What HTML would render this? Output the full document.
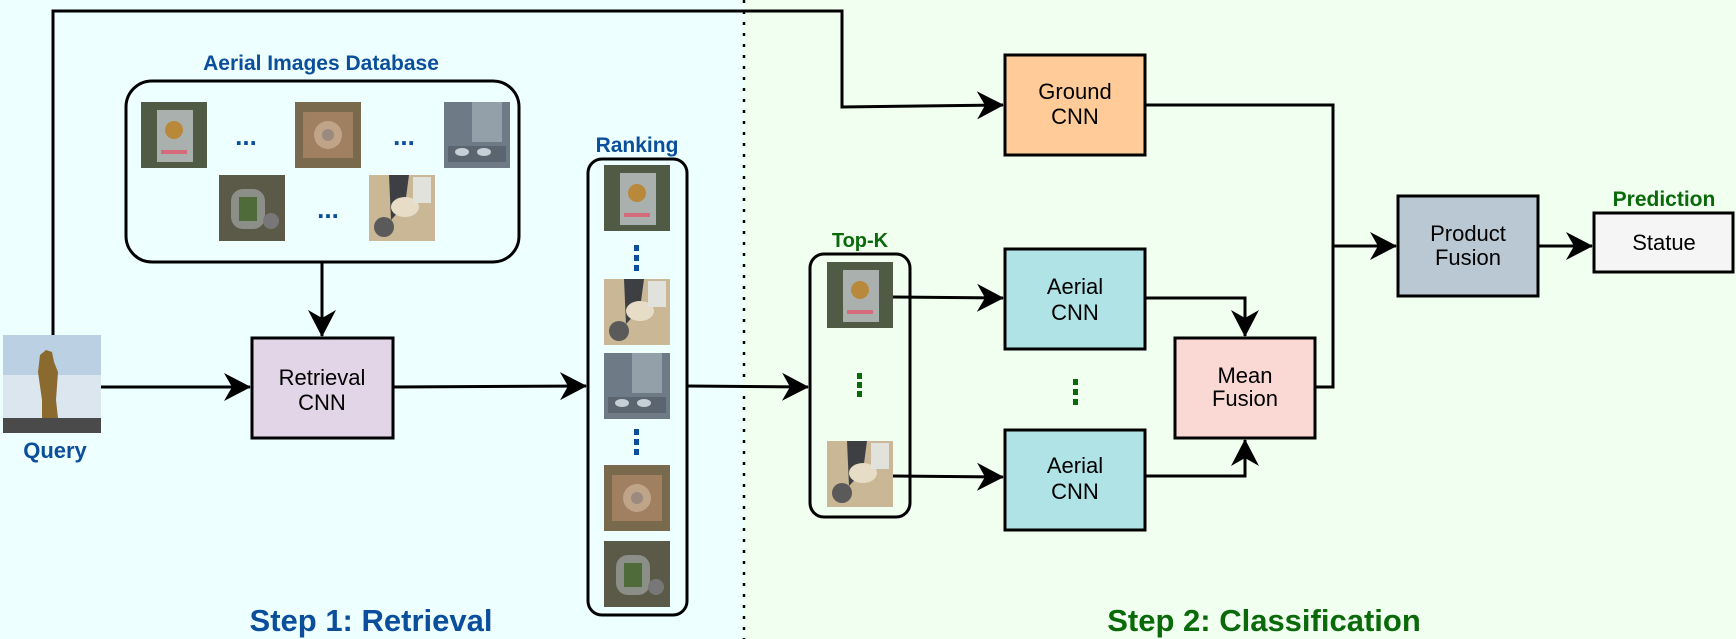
<!DOCTYPE html>
<html><head><meta charset="utf-8"><style>
html,body{margin:0;padding:0;width:1736px;height:639px;overflow:hidden;background:#fff}
svg{display:block}
text{font-family:"Liberation Sans",Arial,sans-serif}
</style></head><body>
<svg width="1736" height="639" viewBox="0 0 1736 639" xmlns="http://www.w3.org/2000/svg">
<defs>
<marker id="ah" markerWidth="28" markerHeight="30" refX="26" refY="14" orient="auto" markerUnits="userSpaceOnUse">
<path d="M0,0 L27,14 L0,28 L8,14 z" fill="#000"/>
</marker>
<g id="t1"><rect width="66" height="66" fill="#4f5b45"/><rect x="16" y="8" width="36" height="52" fill="#aab0ad"/><circle cx="33" cy="28" r="9" fill="#b8893a"/><rect x="20" y="48" width="26" height="4" fill="#d46a7a"/></g>
<g id="t2"><rect width="66" height="66" fill="#7a6a4d"/><rect x="8" y="10" width="50" height="46" fill="#a08060"/><circle cx="33" cy="33" r="14" fill="#c0a488"/><circle cx="33" cy="33" r="6" fill="#9a8a80"/></g>
<g id="t3"><rect width="66" height="66" fill="#6e7b86"/><rect x="28" y="0" width="30" height="40" fill="#93a0aa"/><rect x="4" y="44" width="58" height="16" fill="#5a6570"/><ellipse cx="18" cy="50" rx="7" ry="4" fill="#c6cfd5"/><ellipse cx="40" cy="50" rx="7" ry="4" fill="#c6cfd5"/></g>
<g id="t4"><rect width="66" height="66" fill="#5b5a48"/><rect x="12" y="14" width="34" height="40" rx="12" fill="#8c8f88"/><rect x="20" y="22" width="18" height="24" fill="#4f6b3a"/><circle cx="52" cy="46" r="8" fill="#777"/></g>
<g id="t5"><rect width="66" height="66" fill="#c9b796"/><path d="M20,0 L40,0 L36,30 L22,45 Z" fill="#3d3f42"/><ellipse cx="36" cy="32" rx="14" ry="10" fill="#e7dcc6"/><circle cx="15" cy="52" r="10" fill="#5a5a5a"/><rect x="44" y="2" width="18" height="26" fill="#e2e2dc"/></g>
</defs>
<rect x="0" y="0" width="744" height="639" fill="#eeffff"/>
<rect x="744" y="0" width="992" height="639" fill="#f1fff1"/>
<line x1="744" y1="0" x2="744" y2="639" stroke="#000" stroke-width="2.5" stroke-dasharray="3,8"/>

<polyline points="53,336 53,11 842,11 842,107 1003,105" fill="none" stroke="#000" stroke-width="3" marker-end="url(#ah)"/>

<text x="321" y="70" font-size="21" font-weight="bold" fill="#0b4f9c" text-anchor="middle">Aerial Images Database</text>
<rect x="126" y="81" width="393" height="181" rx="26" fill="none" stroke="#000" stroke-width="3"/>
<use href="#t1" x="141" y="102"/>
<use href="#t2" x="295" y="102"/>
<use href="#t3" x="444" y="102"/>
<use href="#t4" x="219" y="175"/>
<use href="#t5" x="369" y="175"/>
<text x="246" y="145" font-size="26" font-weight="bold" fill="#0b4f9c" text-anchor="middle">...</text>
<text x="404" y="145" font-size="26" font-weight="bold" fill="#0b4f9c" text-anchor="middle">...</text>
<text x="328" y="218" font-size="26" font-weight="bold" fill="#0b4f9c" text-anchor="middle">...</text>
<line x1="322" y1="262" x2="322" y2="336" stroke="#000" stroke-width="3" marker-end="url(#ah)"/>

<rect x="3" y="335" width="98" height="98" fill="#dbe6ef"/>
<rect x="3" y="335" width="98" height="40" fill="#bcd0e4"/>
<path d="M40,355 L46,350 L52,352 L54,362 L58,372 L56,400 L58,418 L42,418 L42,400 L38,372 Z" fill="#8a6a2f"/>
<rect x="3" y="418" width="98" height="15" fill="#4a4a4a"/>
<text x="55" y="458" font-size="22" font-weight="bold" fill="#0b4f9c" text-anchor="middle">Query</text>
<line x1="101" y1="387" x2="250" y2="387" stroke="#000" stroke-width="3" marker-end="url(#ah)"/>

<rect x="252" y="338" width="141" height="100" fill="#e1d5e7" stroke="#000" stroke-width="3"/>
<text x="322" y="385" font-size="22" text-anchor="middle">Retrieval</text>
<text x="322" y="410" font-size="22" text-anchor="middle">CNN</text>
<line x1="393" y1="387" x2="586" y2="386" stroke="#000" stroke-width="3" marker-end="url(#ah)"/>

<text x="637" y="152" font-size="21" font-weight="bold" fill="#0b4f9c" text-anchor="middle">Ranking</text>
<rect x="588" y="159" width="99" height="456" rx="14" fill="none" stroke="#000" stroke-width="3"/>
<use href="#t1" x="604" y="165"/>
<use href="#t5" x="604" y="279"/>
<use href="#t3" x="604" y="353"/>
<use href="#t2" x="604" y="465"/>
<use href="#t4" x="604" y="541"/>
<g fill="#0b4f9c"><rect x="634" y="245" width="5" height="6"/><rect x="634" y="255" width="5" height="6"/><rect x="634" y="265" width="5" height="6"/>
<rect x="634" y="429" width="5" height="6"/><rect x="634" y="439" width="5" height="6"/><rect x="634" y="449" width="5" height="6"/></g>
<line x1="687" y1="386" x2="808" y2="387" stroke="#000" stroke-width="3" marker-end="url(#ah)"/>

<text x="860" y="247" font-size="20" font-weight="bold" fill="#0a6a0a" text-anchor="middle">Top-K</text>
<rect x="810" y="254" width="100" height="263" rx="14" fill="none" stroke="#000" stroke-width="3"/>
<use href="#t1" x="827" y="262"/>
<use href="#t5" x="827" y="441"/>
<g fill="#0a6a0a"><rect x="857" y="373" width="5" height="6"/><rect x="857" y="382" width="5" height="6"/><rect x="857" y="391" width="5" height="6"/></g>
<line x1="893" y1="297" x2="1003" y2="298" stroke="#000" stroke-width="3" marker-end="url(#ah)"/>
<line x1="893" y1="476" x2="1003" y2="477" stroke="#000" stroke-width="3" marker-end="url(#ah)"/>

<rect x="1005" y="55" width="140" height="100" fill="#ffcc99" stroke="#000" stroke-width="3"/>
<text x="1075" y="99" font-size="22" text-anchor="middle">Ground</text>
<text x="1075" y="124" font-size="22" text-anchor="middle">CNN</text>

<rect x="1005" y="249" width="140" height="100" fill="#b0e3e6" stroke="#000" stroke-width="3"/>
<text x="1075" y="294" font-size="22" text-anchor="middle">Aerial</text>
<text x="1075" y="320" font-size="22" text-anchor="middle">CNN</text>
<g fill="#0a6a0a"><rect x="1073" y="379" width="5" height="6"/><rect x="1073" y="389" width="5" height="6"/><rect x="1073" y="399" width="5" height="6"/></g>
<rect x="1005" y="430" width="140" height="100" fill="#b0e3e6" stroke="#000" stroke-width="3"/>
<text x="1075" y="473" font-size="22" text-anchor="middle">Aerial</text>
<text x="1075" y="499" font-size="22" text-anchor="middle">CNN</text>

<polyline points="1145,298 1245,298 1245,336" fill="none" stroke="#000" stroke-width="3" marker-end="url(#ah)"/>
<polyline points="1145,476 1245,476 1245,440" fill="none" stroke="#000" stroke-width="3" marker-end="url(#ah)"/>

<rect x="1175" y="338" width="140" height="100" fill="#fad9d5" stroke="#000" stroke-width="3"/>
<text x="1245" y="383" font-size="22" text-anchor="middle">Mean</text>
<text x="1245" y="406" font-size="22" text-anchor="middle">Fusion</text>

<polyline points="1145,105 1333,105 1333,387 1315,387" fill="none" stroke="#000" stroke-width="3"/>
<line x1="1333" y1="246" x2="1396" y2="246" stroke="#000" stroke-width="3" marker-end="url(#ah)"/>

<rect x="1398" y="196" width="140" height="100" fill="#bac8d3" stroke="#000" stroke-width="3"/>
<text x="1468" y="241" font-size="22" text-anchor="middle">Product</text>
<text x="1468" y="265" font-size="22" text-anchor="middle">Fusion</text>
<line x1="1538" y1="246" x2="1592" y2="246" stroke="#000" stroke-width="3" marker-end="url(#ah)"/>

<text x="1664" y="206" font-size="21" font-weight="bold" fill="#0a6a0a" text-anchor="middle">Prediction</text>
<rect x="1594" y="213" width="139" height="59" fill="#f5f5f5" stroke="#000" stroke-width="3"/>
<text x="1664" y="250" font-size="22" text-anchor="middle">Statue</text>

<text x="371" y="631" font-size="31" font-weight="bold" fill="#0b4f9c" text-anchor="middle">Step 1: Retrieval</text>
<text x="1264" y="631" font-size="31" font-weight="bold" fill="#0a6a0a" text-anchor="middle">Step 2: Classification</text>
</svg>
</body></html>
